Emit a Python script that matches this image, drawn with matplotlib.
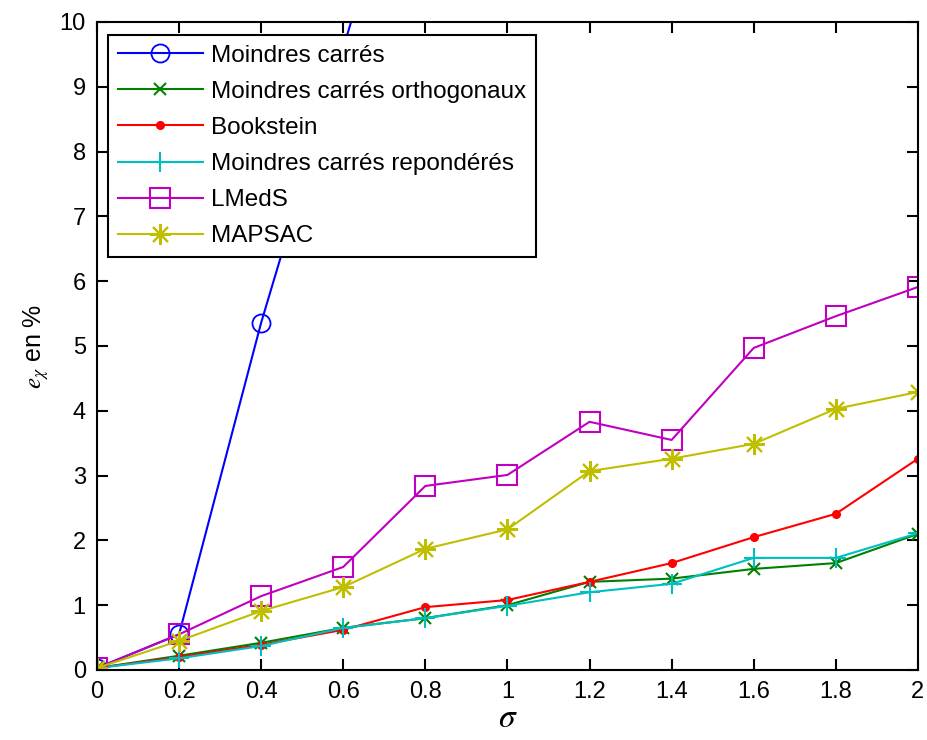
import matplotlib
matplotlib.use("Agg")
import matplotlib.pyplot as plt

# =========================
# DATA
# =========================
sigma = [0, 0.2, 0.4, 0.6, 0.8, 1.0, 1.2, 1.4, 1.6, 1.8, 2.0]

mc = [0.03, 0.55, 5.36, 9.6, 13.8, 18.0, 22.0, 26.0, 30.0, 34.0, 38.0]
mc_ortho = [0.03, 0.22, 0.42, 0.65, 0.80, 1.00, 1.36, 1.41, 1.56, 1.65, 2.10]
bookstein = [0.03, 0.20, 0.39, 0.62, 0.97, 1.08, 1.36, 1.65, 2.05, 2.41, 3.26]
mc_repond = [0.03, 0.18, 0.37, 0.65, 0.80, 0.99, 1.20, 1.33, 1.73, 1.73, 2.11]
lmeds = [0.03, 0.55, 1.14, 1.59, 2.84, 3.01, 3.83, 3.55, 4.97, 5.46, 5.91]
mapsac = [0.03, 0.45, 0.91, 1.28, 1.87, 2.17, 3.07, 3.26, 3.49, 4.03, 4.29]

x_ticks = [0, 0.2, 0.4, 0.6, 0.8, 1, 1.2, 1.4, 1.6, 1.8, 2]
x_tick_labels = ["0", "0.2", "0.4", "0.6", "0.8", "1", "1.2", "1.4", "1.6", "1.8", "2"]
y_ticks = list(range(0, 11))

# =========================
# STYLE
# =========================
plt.rcParams["font.family"] = ["Liberation Sans", "DejaVu Sans"]
plt.rcParams["mathtext.fontset"] = "stix"

fig = plt.figure(figsize=(9.27, 7.4), dpi=100)
ax = fig.add_axes([0.1046, 0.0946, 0.8856, 0.8757])

lw = 1.5
ax.plot(sigma, mc, color="#0000ff", lw=lw, marker="o", ms=13, mfc="none",
        mew=1.3, label="Moindres carrés")
ax.plot(sigma, mc_ortho, color="#008000", lw=lw, marker="x", ms=8,
        mew=1.5, label="Moindres carrés orthogonaux")
ax.plot(sigma, bookstein, color="#ff0000", lw=lw, marker=".", ms=11,
        label="Bookstein")
ax.plot(sigma, mc_repond, color="#00bfbf", lw=lw, marker="+", ms=15,
        mew=1.5, label="Moindres carrés repondérés")
ax.plot(sigma, lmeds, color="#bf00bf", lw=lw, marker="s", ms=14, mfc="none",
        mew=1.5, label="LMedS")
ax.plot(sigma, mapsac, color="#bfbf00", lw=lw, marker=(8, 2, 0), ms=15,
        mew=1.5, label="MAPSAC")

ax.set_xlim(0, 2)
ax.set_ylim(0, 10)
ax.set_xticks(x_ticks)
ax.set_xticklabels(x_tick_labels)
ax.set_yticks(y_ticks)
ax.tick_params(direction="in", top=True, right=True, length=8, width=1.5,
               labelsize=17, pad=8)
for s in ax.spines.values():
    s.set_linewidth(1.5)

ax.set_xlabel(r"$\sigma$", fontsize=24, labelpad=0)
ax.set_ylabel(r"$e_\chi$ en %", fontsize=18, labelpad=6)

leg = ax.legend(loc="upper left", bbox_to_anchor=(0.0134, 0.980), fontsize=17.5,
                frameon=True, fancybox=False, edgecolor="black", framealpha=1,
                handlelength=3.5, borderpad=0.4, labelspacing=0.58,
                handletextpad=0.35, borderaxespad=0)
leg.get_frame().set_linewidth(1.5)

fig.savefig("out.png", dpi=100)
